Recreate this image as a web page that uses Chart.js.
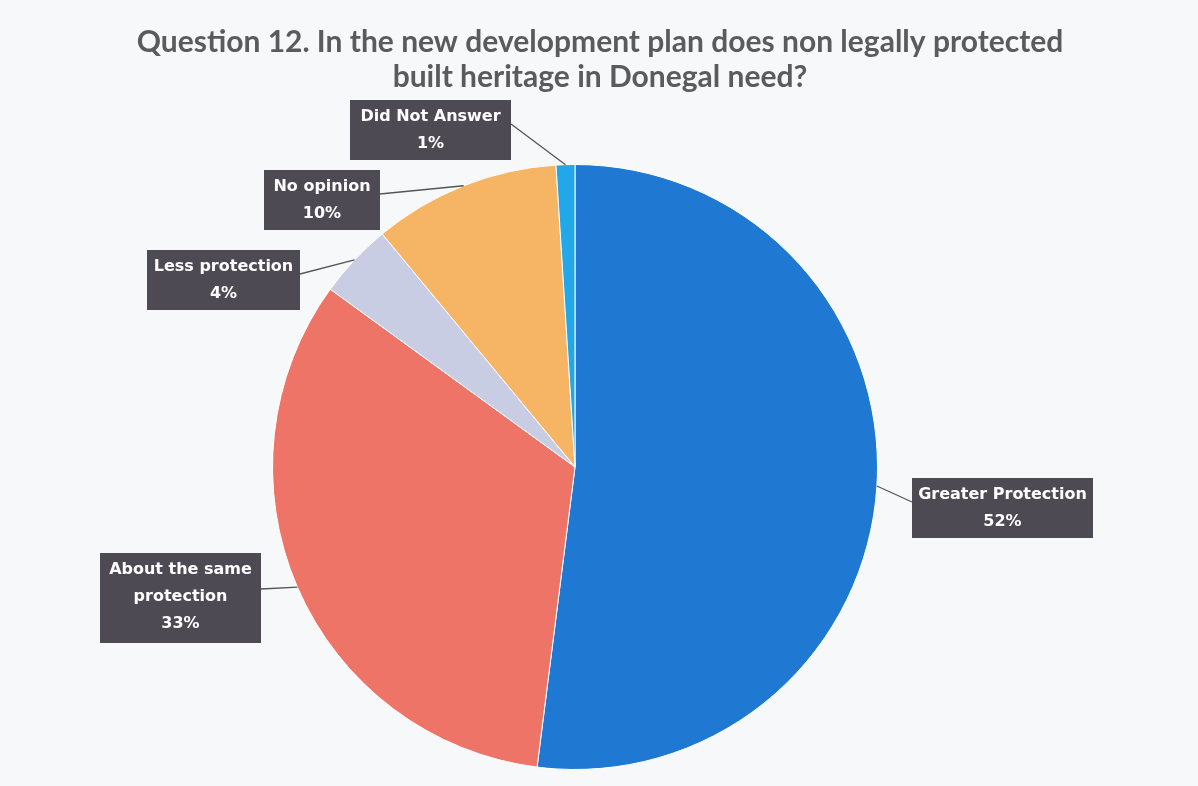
<!DOCTYPE html>
<html>
<head>
<meta charset="utf-8">
<script src="https://cdn.jsdelivr.net/npm/chart.js@4"></script>
<style>
  html, body { margin: 0; padding: 0; background: #f7f8fa; }
  #wrap { width: 1198px; height: 786px; }
</style>
</head>
<body>
<div id="wrap"><canvas id="heritageChart" width="1198" height="786"></canvas></div>
<script>
const titleLines = [
  "Question 12. In the new development plan does non legally protected",
  "built heritage in Donegal need?",
];
const categories = ["Greater Protection", "About the same protection", "Less protection", "No opinion", "Did Not Answer"];
const percents = [52, 33, 4, 10, 1];
const sliceColors = ["#1f78d1", "#ee7468", "#c8cde3", "#f5b565", "#22a8e8"];

// label box layout: left, top, width, wrapped text, which side the leader line leaves from
const labelBoxes = [
  { x: 912, y: 478, w: 181, lines: ["Greater Protection"], side: "left" },
  { x: 100, y: 553, w: 161, lines: ["About the same", "protection"], side: "right" },
  { x: 147, y: 250, w: 153, lines: ["Less protection"], side: "right" },
  { x: 264, y: 170, w: 116, lines: ["No opinion"], side: "right" },
  { x: 350, y: 100, w: 161, lines: ["Did Not Answer"], side: "right" },
];

const titlePlugin = {
  id: "titleText",
  afterDraw(chart) {
    const c = chart.ctx;
    c.save();
    c.fillStyle = "#5b5b5b";
    c.font = "bold 30px Lato";
    c.textAlign = "center";
    c.textBaseline = "middle";
    c.fillText(titleLines[0], 600, 42);
    c.fillText(titleLines[1], 600, 77);
    c.restore();
  },
};

const calloutPlugin = {
  id: "callouts",
  afterDraw(chart) {
    const c = chart.ctx;
    const arcs = chart.getDatasetMeta(0).data;
    c.save();
    arcs.forEach((arc, i) => {
      const box = labelBoxes[i];
      const lines = box.lines.concat([percents[i] + "%"]);
      const h = lines.length * 30;
      const mid = (arc.startAngle + arc.endAngle) / 2;
      const ex = arc.x + Math.cos(mid) * arc.outerRadius;
      const ey = arc.y + Math.sin(mid) * arc.outerRadius;
      const sx = box.side === "left" ? box.x : box.x + box.w;
      const sy = box.y + h * 0.4;

      c.strokeStyle = "#555555";
      c.lineWidth = 1.3;
      c.beginPath();
      c.moveTo(sx, sy);
      c.lineTo(ex, ey);
      c.stroke();

      c.fillStyle = "#4e4a54";
      c.fillRect(box.x, box.y, box.w, h);

      c.fillStyle = "#ffffff";
      c.font = "bold 16px 'DejaVu Sans'";
      c.textAlign = "center";
      c.textBaseline = "middle";
      lines.forEach((t, k) => {
        c.fillText(t, box.x + box.w / 2, box.y + 17 + k * 27);
      });
    });
    c.restore();
  },
};

new Chart(document.getElementById("heritageChart"), {
  type: "pie",
  data: {
    labels: categories,
    datasets: [
      {
        data: percents,
        backgroundColor: sliceColors,
        borderColor: "#ffffff",
        borderWidth: 1,
      },
    ],
  },
  options: {
    responsive: false,
    animation: false,
    layout: {
      padding: { left: 272, right: 320, top: 164, bottom: 16 },
    },
    plugins: {
      legend: { display: false },
      tooltip: { enabled: false },
    },
  },
  plugins: [titlePlugin, calloutPlugin],
});
</script>
</body>
</html>
